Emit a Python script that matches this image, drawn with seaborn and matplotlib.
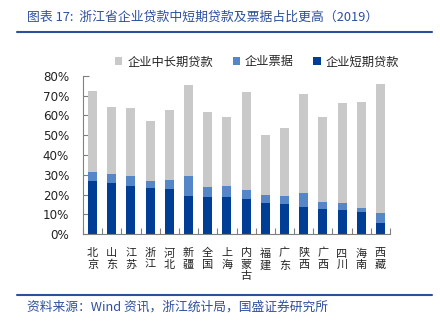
import matplotlib
matplotlib.use('Agg')
import matplotlib.pyplot as plt
import seaborn as sns
import pandas as pd
import numpy as np
from matplotlib.patches import Patch
from matplotlib.lines import Line2D

# ---- data (percent of enterprise loans, 2019) ----
regions = ['北京', '山东', '江苏', '浙江', '河北', '新疆', '全国', '上海',
           '内蒙古', '福建', '广东', '陕西', '广西', '四川', '海南', '西藏']
short_term = [26.9, 25.8, 24.4, 23.4, 23.0, 19.5, 19.0, 19.0,
              17.8, 15.8, 15.3, 13.6, 12.9, 12.4, 11.1, 5.7]
bills = [4.6, 4.8, 5.0, 3.4, 4.4, 9.8, 4.9, 5.5,
         4.6, 4.0, 4.2, 7.3, 3.4, 3.6, 2.2, 5.1]
long_term = [41.0, 33.7, 34.4, 30.1, 35.4, 45.8, 37.7, 34.6,
             49.3, 30.4, 34.2, 50.0, 42.8, 50.3, 53.5, 65.1]
series_names = ['企业中长期贷款', '企业票据', '企业短期贷款']
y_ticks = [0, 10, 20, 30, 40, 50, 60, 70, 80]
title_text = '图表 17:  浙江省企业贷款中短期贷款及票据占比更高（2019）'
source_text = '资料来源：Wind 资讯，浙江统计局，国盛证券研究所'

GREY = '#C9C9C9'
MID = '#5486C8'
DARK = '#003E96'
AXIS = '#808080'
TITLE_BLUE = '#2F4F9C'

sns.set_theme(style='white')
plt.rcParams['font.family'] = ['Noto Sans CJK SC', 'DejaVu Sans']

fig = plt.figure(figsize=(4.4, 3.23), dpi=100)
ax = fig.add_axes([83 / 440, 1 - 234.3 / 323, 307 / 440, (234.3 - 75.7) / 323])

df = pd.DataFrame({'region': regions, 'short': short_term,
                   'bill': bills, 'long': long_term})
df['lvl2'] = df['short'] + df['bill']
df['lvl3'] = df['lvl2'] + df['long']

for col, c in [('lvl3', GREY), ('lvl2', MID), ('short', DARK)]:
    sns.barplot(data=df, x='region', y=col, order=regions, color=c,
                saturation=1, width=0.47, linewidth=0, ax=ax, errorbar=None)

ax.set_xlim(-0.5, len(regions) - 0.5)
ax.set_ylim(0, 80)
ax.set_xlabel('')
ax.set_ylabel('')

ax.set_xticks(range(len(regions)))
ax.set_xticklabels(['\n'.join(r) for r in regions], fontsize=8,
                   linespacing=1.2, va='top', color='#222222')
ax.set_xticks(np.arange(-0.5, len(regions), 1), minor=True)
ax.tick_params(axis='x', which='major', length=0, pad=10)
ax.tick_params(axis='x', which='minor', length=4, direction='in',
               color=AXIS, width=0.8, bottom=True)

ax.set_yticks(y_ticks)
ax.set_yticklabels([f'{v}%' for v in y_ticks], fontsize=8.6,
                   family=['DejaVu Sans'], color='#222222')
ax.tick_params(axis='y', length=4, direction='in', color=AXIS, width=0.8,
               left=True, pad=10)

for s in ['top', 'right']:
    ax.spines[s].set_visible(False)
for s in ['left', 'bottom']:
    ax.spines[s].set_color(AXIS)
    ax.spines[s].set_linewidth(0.8)

handles = [Patch(facecolor=c, edgecolor='none') for c in (GREY, MID, DARK)]
fig.legend(handles, series_names, ncol=3, loc='center',
           bbox_to_anchor=(257 / 440, 1 - 62 / 323), frameon=False,
           fontsize=8.8, handlelength=0.6, handleheight=0.6,
           handletextpad=0.4, columnspacing=1.6)

fig.text(27 / 440, 1 - 17 / 323, title_text, fontsize=9.25, color=TITLE_BLUE,
         va='center', ha='left', style='italic')
fig.add_artist(Line2D([17 / 440, 432 / 440], [1 - 32 / 323] * 2,
                      transform=fig.transFigure, color=TITLE_BLUE, lw=1.5))
fig.add_artist(Line2D([17 / 440, 432 / 440], [1 - 295 / 323] * 2,
                      transform=fig.transFigure, color=TITLE_BLUE, lw=1.5))
fig.text(27 / 440, 1 - 307 / 323, source_text, fontsize=9.2, color=TITLE_BLUE,
         va='center', ha='left', style='italic')

fig.savefig('out.png', dpi=100)
